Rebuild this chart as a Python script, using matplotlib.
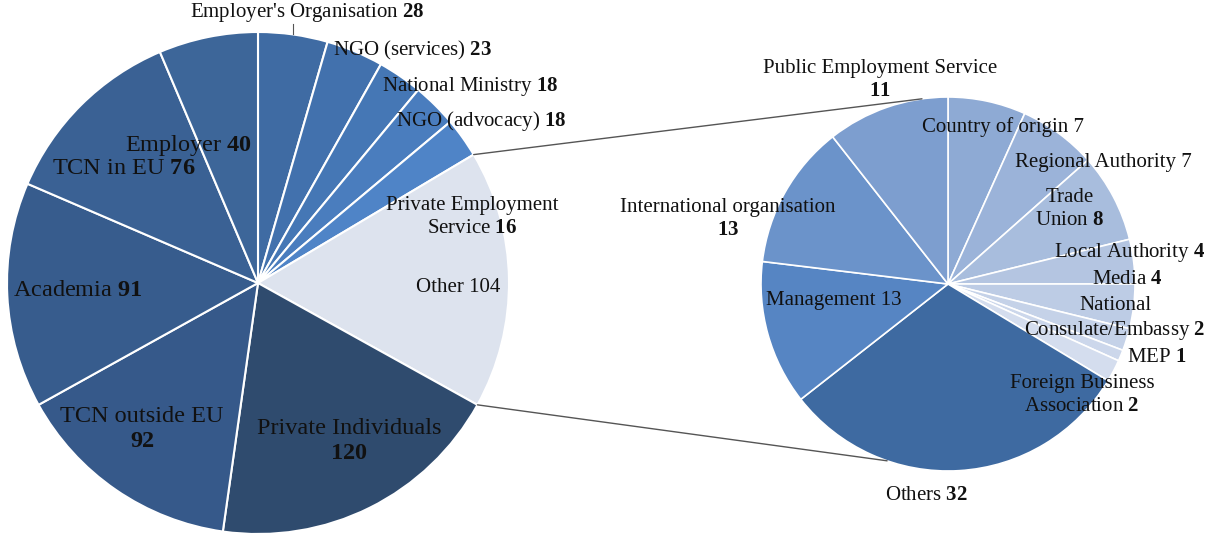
import matplotlib.pyplot as plt
import numpy as np
from matplotlib.patches import ConnectionPatch

plt.rcParams['font.family'] = 'Liberation Serif'
plt.rcParams['mathtext.fontset'] = 'custom'
plt.rcParams['mathtext.rm'] = 'Liberation Serif'
plt.rcParams['mathtext.bf'] = 'Liberation Serif:bold'

# main pie, clockwise from 12 o'clock
main_labels = ["Employer's Organisation", "NGO (services)", "National Ministry", "NGO (advocacy)",
               "Private Employment\nService", "Other", "Private Individuals", "TCN outside EU",
               "Academia", "TCN in EU", "Employer"]
main_values = [28, 23, 18, 18, 16, 104, 120, 92, 91, 76, 40]
main_colors = ['#3f6ba3', '#4271ad', '#4577b5', '#4a7dbe', '#4f84c7', '#dde3ee',
               '#2f4b6e', '#36598a', '#375c8d', '#3a6194', '#3d6699']

# breakdown of "Other"
sub_labels = ["Country of origin", "Regional Authority", "Trade\nUnion", "Local Authority", "Media",
              "National\nConsulate/Embassy", "MEP", "Foreign Business\nAssociation", "Others",
              "Management", "International organisation", "Public Employment Service"]
sub_values = [7, 7, 8, 4, 4, 2, 1, 2, 32, 13, 13, 11]
sub_colors = ['#8eaad4', '#9bb3d9', '#a8bddd', '#b4c5e1', '#bdcce5', '#c5d2e8',
              '#ccd7eb', '#d4ddee', '#3e6aa1', '#5685c3', '#6b93ca', '#7d9ecf']

plain_number = {"Other", "Management", "Country of origin", "Regional Authority"}
number_below = {"Private Individuals", "TCN outside EU", "International organisation",
                "Public Employment Service"}
big_text = {"Private Individuals", "TCN outside EU", "Academia", "TCN in EU", "Employer"}

# label centres in pixels (x, y from top)
main_pos = [(307, 13), (412, 50), (470, 86), (481, 121), (472, 217), (458, 287),
            (349, 441), (142, 429), (78, 290), (124, 168), (188, 145)]
sub_pos = [(1003, 127), (1103, 163), (1070, 209), (1130, 252), (1127, 280), (1115, 319),
           (1157, 357), (1082, 395), (926, 495), (834, 300), (728, 219), (880, 80)]


def label_text(name, value):
    if name in plain_number:
        return f"{name} {value}"
    sep = "\n" if name in number_below else " "
    return name + sep + r"$\mathbf{" + str(value) + "}$"


W, H = 1212, 540
fig = plt.figure(figsize=(W / 100, H / 100), dpi=100)

# left pie: centre (258, 283), r 251 px
cx1, cy1, r1 = 258, 283, 251
ax1 = fig.add_axes([(cx1 - r1) / W, (H - cy1 - r1) / H, 2 * r1 / W, 2 * r1 / H])
w1, _ = ax1.pie(main_values, colors=main_colors, startangle=90, counterclock=False,
                wedgeprops=dict(edgecolor='white', linewidth=1.5))
ax1.set_xlim(-1, 1)
ax1.set_ylim(-1, 1)
ax1.set_aspect('auto')
ax1.axis('off')

# right pie: centre (948, 284), r 187 px
cx2, cy2, r2 = 948, 284, 187
ax2 = fig.add_axes([(cx2 - r2) / W, (H - cy2 - r2) / H, 2 * r2 / W, 2 * r2 / H])
w2, _ = ax2.pie(sub_values, colors=sub_colors, startangle=90, counterclock=False,
                wedgeprops=dict(edgecolor='white', linewidth=1.2))
ax2.set_xlim(-1, 1)
ax2.set_ylim(-1, 1)
ax2.set_aspect('auto')
ax2.axis('off')

# connector lines from the "Other" wedge to the second pie
other = w1[main_labels.index("Other")]
for th_a, th_b in [(other.theta2, 98), (other.theta1, -109)]:
    pa = (np.cos(np.radians(th_a)), np.sin(np.radians(th_a)))
    pb = (np.cos(np.radians(th_b)), np.sin(np.radians(th_b)))
    con = ConnectionPatch(xyA=pa, xyB=pb, coordsA='data', coordsB='data',
                          axesA=ax1, axesB=ax2, color='#555555', linewidth=1)
    fig.add_artist(con)

# small leader for Employer's Organisation
eo = w1[0]
mid = np.radians((eo.theta1 + eo.theta2) / 2)
ax1.plot([np.cos(mid)] * 2, [np.sin(mid), np.sin(mid) + 0.04], color='#555555',
         linewidth=0.8, clip_on=False)

# labels on an overlay in pixel coordinates
ax0 = fig.add_axes([0, 0, 1, 1], facecolor='none')
ax0.set_xlim(0, W)
ax0.set_ylim(H, 0)
ax0.axis('off')
for name, val, (x, y) in zip(main_labels + sub_labels, main_values + sub_values,
                             main_pos + sub_pos):
    size = 17.5 if name in big_text else 15
    ax0.text(x, y, label_text(name, val), ha='center', va='center', fontsize=size,
             color='#111111', linespacing=1.25)

fig.savefig('out.png', dpi=100)
